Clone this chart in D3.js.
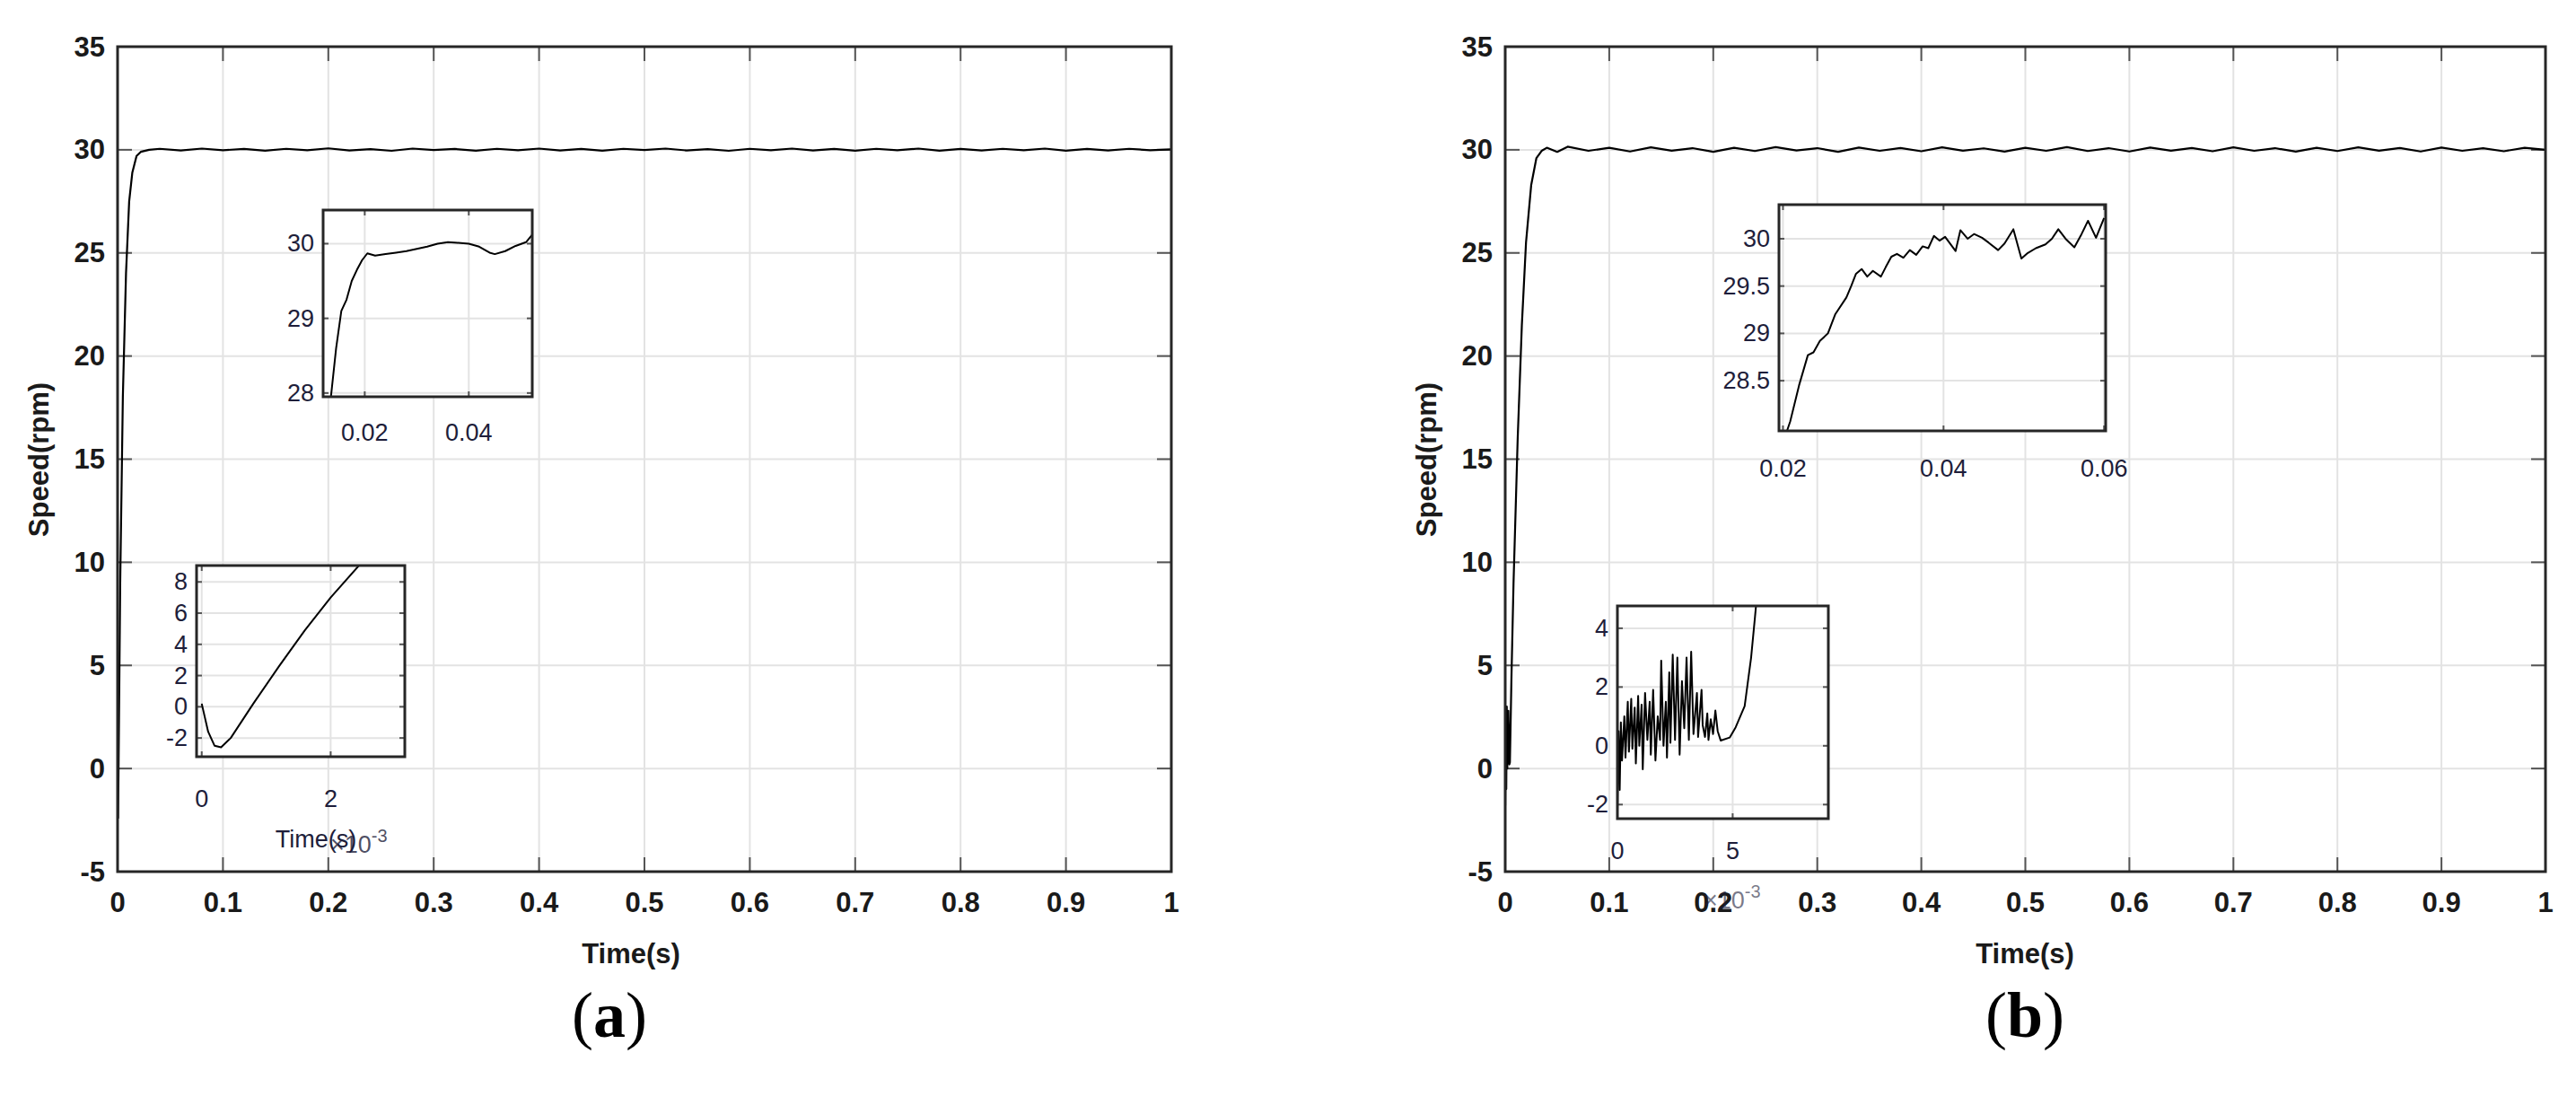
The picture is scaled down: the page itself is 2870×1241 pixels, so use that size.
<!DOCTYPE html>
<html><head><meta charset="utf-8">
<script src="https://cdn.jsdelivr.net/npm/d3@7"></script>
<style>
body{margin:0;background:#fff}
.tk{font-family:"Liberation Sans Narrow","Liberation Sans",sans-serif;font-weight:bold;font-size:31px;fill:#1a1a1a}
.it{font-family:"Liberation Sans Narrow","Liberation Sans",sans-serif;font-size:27px;fill:#1e1e3a}
.cap{font-family:"Liberation Serif",serif;font-size:72px;fill:#000}
</style></head><body>
<div id="chart"></div>
<script>
const width = 2870, height = 1241;

// main panel ticks
const xTicksMain = [0,0.1,0.2,0.3,0.4,0.5,0.6,0.7,0.8,0.9,1];
const yTicksMain = [-5,0,5,10,15,20,25,30,35];

// panel (a) main trace (time s, speed rpm)
const speedA = [[0,0],[0.0005,-2.4],[0.0025,9],[0.005,18],[0.008,24],[0.011,27.5],[0.014,28.9],[0.018,29.7],[0.022,29.9],[0.03,30.0],
 [0.04,30.05],[0.06,29.97],[0.08,30.06],[0.1,29.98],[0.12,30.04],[0.14,29.96],[0.16,30.05],[0.18,29.98],[0.2,30.07],[0.22,29.97],
 [0.24,30.03],[0.26,29.95],[0.28,30.06],[0.3,29.99],[0.32,30.04],[0.34,29.96],[0.36,30.05],[0.38,29.98],[0.4,30.06],[0.42,29.97],
 [0.44,30.04],[0.46,29.96],[0.48,30.05],[0.5,29.99],[0.52,30.06],[0.54,29.97],[0.56,30.03],[0.58,29.95],[0.6,30.05],[0.62,29.98],
 [0.64,30.06],[0.66,29.97],[0.68,30.04],[0.7,29.96],[0.72,30.05],[0.74,29.98],[0.76,30.06],[0.78,29.96],[0.8,30.04],[0.82,29.97],
 [0.84,30.05],[0.86,29.98],[0.88,30.06],[0.9,29.96],[0.92,30.04],[0.94,29.97],[0.96,30.05],[0.98,29.98],[1,30.02]];

// panel (a) upper inset
const insetA1X = [0.02,0.04];
const insetA1Y = [28,29,30];
const zoomA1 = [[0.0135,27.95],[0.0145,28.6],[0.0155,29.1],[0.0165,29.25],[0.0175,29.5],[0.0185,29.65],[0.0195,29.78],[0.0205,29.87],
 [0.022,29.84],[0.024,29.86],[0.026,29.88],[0.028,29.9],[0.03,29.93],[0.032,29.96],[0.034,30.0],[0.036,30.02],[0.038,30.01],
 [0.04,30.0],[0.042,29.96],[0.044,29.88],[0.045,29.86],[0.047,29.9],[0.049,29.97],[0.051,30.02],[0.0522,30.12]];

// panel (a) lower inset (time in ms)
const insetA2X = [0,2];
const insetA2Y = [-2,0,2,4,6,8];
const zoomA2 = [[0,0.2],[0.1,-1.6],[0.2,-2.5],[0.3,-2.6],[0.45,-2.0],[0.8,0.2],[1.2,2.6],[1.6,4.9],[2.0,7.0],[2.45,9.1]];

// panel (b) main trace
const speedB = [[0,-1.8],[0.0005,2.5],[0.001,-1],[0.0015,3],[0.002,0],[0.003,2.8],[0.004,0.2],[0.0045,0.3],[0.006,4.4],[0.008,9],
 [0.012,16],[0.016,21.5],[0.02,25.5],[0.025,28.3],[0.03,29.6],[0.035,29.95],[0.04,30.1],[0.05,29.9],[0.06,30.15],[0.08,29.95],
 [0.1,30.1],[0.12,29.92],[0.14,30.12],[0.16,29.96],[0.18,30.08],[0.2,29.9],[0.22,30.1],[0.24,29.94],[0.26,30.13],[0.28,29.97],
 [0.3,30.08],[0.32,29.9],[0.34,30.11],[0.36,29.95],[0.38,30.09],[0.4,29.93],[0.42,30.12],[0.44,29.96],[0.46,30.07],[0.48,29.91],
 [0.5,30.1],[0.52,29.95],[0.54,30.13],[0.56,29.94],[0.58,30.08],[0.6,29.92],[0.62,30.11],[0.64,29.96],[0.66,30.09],[0.68,29.93],
 [0.7,30.12],[0.72,29.95],[0.74,30.08],[0.76,29.91],[0.78,30.1],[0.8,29.94],[0.82,30.12],[0.84,29.96],[0.86,30.09],[0.88,29.92],
 [0.9,30.11],[0.92,29.95],[0.94,30.08],[0.96,29.93],[0.98,30.1],[1,30.0]];

// panel (b) upper inset
const insetB1X = [0.02,0.04,0.06];
const insetB1Y = [28.5,29,29.5,30];
const zoomB1 = [[0.0205,27.97],[0.0209,28.07],[0.022,28.45],[0.0231,28.77],[0.0238,28.8],[0.0246,28.92],[0.0256,29.0],[0.0265,29.2],
 [0.0279,29.38],[0.0285,29.5],[0.0291,29.63],[0.0298,29.68],[0.0305,29.6],[0.0312,29.66],[0.0322,29.6],[0.0328,29.7],[0.0335,29.81],
 [0.0342,29.84],[0.035,29.8],[0.0358,29.88],[0.0366,29.83],[0.0374,29.92],[0.0381,29.9],[0.0388,30.03],[0.0395,29.98],[0.0402,30.02],
 [0.0415,29.87],[0.0421,30.09],[0.043,30.0],[0.0438,30.05],[0.0448,30.01],[0.0456,29.96],[0.0468,29.88],[0.0476,29.95],[0.0487,30.1],
 [0.0497,29.79],[0.0505,29.85],[0.0515,29.9],[0.0527,29.94],[0.0535,30.0],[0.0543,30.1],[0.0552,30.0],[0.0563,29.91],[0.0572,30.05],
 [0.058,30.19],[0.059,30.01],[0.06,30.22]];

// panel (b) lower inset (time in ms)
const insetB2X = [0,5];
const insetB2Y = [-2,0,2,4];
const zoomB2 = [[0,-2.2],[0.05,0.5],[0.1,-1.5],[0.15,0.8],[0.2,-0.5],[0.3,1.0],[0.35,-0.4],[0.45,1.5],[0.5,-0.2],[0.6,1.6],
 [0.65,-0.1],[0.75,1.3],[0.8,-0.6],[0.9,1.7],[0.95,0.0],[1.05,1.4],[1.1,-0.8],[1.2,1.8],[1.3,0.2],[1.4,1.5],[1.45,-0.3],[1.55,1.9],
 [1.65,-0.5],[1.75,1.0],[1.85,0.2],[1.9,2.9],[2.0,0.0],[2.1,1.5],[2.15,-0.4],[2.25,2.5],[2.3,0.1],[2.4,3.1],[2.5,0.2],[2.6,3.0],
 [2.7,-0.3],[2.8,2.2],[2.9,0.6],[3.0,3.0],[3.1,0.2],[3.2,3.2],[3.3,0.4],[3.45,1.8],[3.5,0.3],[3.65,1.9],[3.7,0.7],[3.8,0.3],
 [3.9,1.1],[3.95,0.2],[4.05,0.9],[4.15,0.4],[4.25,1.2],[4.35,0.5],[4.48,0.18],[4.87,0.28],[5.13,0.63],[5.52,1.35],[5.8,3.0],[5.97,4.4],[6.1,5.5]];

const svg = d3.select("#chart").append("svg")
    .attr("width", width).attr("height", height)
    .attr("viewBox", `0 0 ${width} ${height}`);

const line = (x, y) => d3.line().x(d => x(d[0])).y(d => y(d[1]));
let clipId = 0;

// one framed axes with grid; cls sets tick label style
function drawAxes(box, xDom, yDom, xTicks, yTicks, data, cls, opt) {
    const x = d3.scaleLinear().domain(xDom).range([box.x0, box.x1]);
    const y = d3.scaleLinear().domain(yDom).range([box.y1, box.y0]);
    const g = svg.append("g");
    g.append("rect").attr("x", box.x0).attr("y", box.y0)
        .attr("width", box.x1 - box.x0).attr("height", box.y1 - box.y0).attr("fill", "#fff");
    // grid
    g.selectAll(".gx").data(xTicks).join("line")
        .attr("x1", d => x(d)).attr("x2", d => x(d)).attr("y1", box.y0).attr("y2", box.y1)
        .attr("stroke", "#e3e3e3").attr("stroke-width", opt.grid);
    g.selectAll(".gy").data(yTicks).join("line")
        .attr("y1", d => y(d)).attr("y2", d => y(d)).attr("x1", box.x0).attr("x2", box.x1)
        .attr("stroke", "#e3e3e3").attr("stroke-width", opt.grid);
    // ticks inside, all four sides
    const tl = opt.tick;
    const tickG = g.append("g").attr("stroke", "#555").attr("stroke-width", opt.grid);
    xTicks.forEach(t => {
        tickG.append("line").attr("x1", x(t)).attr("x2", x(t)).attr("y1", box.y1).attr("y2", box.y1 - tl);
        tickG.append("line").attr("x1", x(t)).attr("x2", x(t)).attr("y1", box.y0).attr("y2", box.y0 + tl);
    });
    yTicks.forEach(t => {
        tickG.append("line").attr("y1", y(t)).attr("y2", y(t)).attr("x1", box.x0).attr("x2", box.x0 + tl);
        tickG.append("line").attr("y1", y(t)).attr("y2", y(t)).attr("x1", box.x1).attr("x2", box.x1 - tl);
    });
    // data
    const id = "clip" + (clipId++);
    g.append("clipPath").attr("id", id).append("rect")
        .attr("x", box.x0).attr("y", box.y0).attr("width", box.x1 - box.x0).attr("height", box.y1 - box.y0);
    g.append("path").datum(data).attr("clip-path", `url(#${id})`)
        .attr("fill", "none").attr("stroke", "#000").attr("stroke-width", opt.lw)
        .attr("stroke-linejoin", "round").attr("d", line(x, y));
    g.append("rect").attr("x", box.x0).attr("y", box.y0)
        .attr("width", box.x1 - box.x0).attr("height", box.y1 - box.y0)
        .attr("fill", "none").attr("stroke", "#262626").attr("stroke-width", opt.frame);
    // labels
    g.selectAll(".xl").data(xTicks).join("text").attr("class", cls)
        .attr("x", d => x(d)).attr("y", opt.xLabelY).attr("text-anchor", "middle")
        .attr("dominant-baseline", "central").text(d => d);
    g.selectAll(".yl").data(yTicks).join("text").attr("class", cls)
        .attr("x", box.x0 - opt.yGap).attr("y", d => y(d)).attr("text-anchor", "end")
        .attr("dominant-baseline", "central").text(d => d);
    return {x, y, g};
}

const mainOpt = {grid: 2, tick: 16, lw: 2.2, frame: 3, yGap: 14, xLabelY: 1005};
const inOpt = {grid: 2, tick: 6, lw: 2, frame: 3, yGap: 10};

// panel (a)
drawAxes({x0: 131, x1: 1305, y0: 52, y1: 971}, [0, 1], [-5, 35], xTicksMain, yTicksMain, speedA, "tk", mainOpt);
drawAxes({x0: 360, x1: 593, y0: 234, y1: 442}, [0.012, 0.0522], [27.95, 30.45], insetA1X, insetA1Y, zoomA1, "it",
    Object.assign({}, inOpt, {xLabelY: 482}));
drawAxes({x0: 219, x1: 451, y0: 630, y1: 843}, [-0.08, 3.15], [-3.2, 9.05], insetA2X, insetA2Y, zoomA2, "it",
    Object.assign({}, inOpt, {xLabelY: 890}));

// panel (b)
drawAxes({x0: 1677, x1: 2836, y0: 52, y1: 971}, [0, 1], [-5, 35], xTicksMain, yTicksMain, speedB, "tk", mainOpt);
drawAxes({x0: 1982, x1: 2346, y0: 228, y1: 480}, [0.0195, 0.0602], [27.97, 30.36], insetB1X, insetB1Y, zoomB1, "it",
    Object.assign({}, inOpt, {xLabelY: 522}));
drawAxes({x0: 1802, x1: 2037, y0: 675, y1: 912}, [0, 9.15], [-2.48, 4.76], insetB2X, insetB2Y, zoomB2, "it",
    Object.assign({}, inOpt, {xLabelY: 948}));

// axis titles
[[703, 131], [2256, 1677]].forEach(([cx, x0]) => {
    svg.append("text").attr("class", "tk").attr("x", cx).attr("y", 1062)
        .attr("text-anchor", "middle").attr("dominant-baseline", "central").text("Time(s)");
    svg.append("text").attr("class", "tk")
        .attr("transform", `translate(${x0 - 88},${512}) rotate(-90)`)
        .attr("text-anchor", "middle").attr("dominant-baseline", "central").text("Speed(rpm)");
});

// inset (a) lower: x title and exponent
svg.append("text").attr("class", "it").attr("x", 352).attr("y", 935)
    .attr("text-anchor", "middle").attr("dominant-baseline", "central").text("Time(s)");
svg.append("text").attr("class", "it").attr("x", 368).attr("y", 950).attr("fill-opacity", 0.8)
    .html('×10<tspan dy="-12" font-size="20">-3</tspan>');
// inset (b) lower exponent
svg.append("text").attr("class", "it").attr("x", 1898).attr("y", 1012).attr("fill-opacity", 0.6)
    .html('×10<tspan dy="-12" font-size="20">-3</tspan>');

// captions
svg.append("text").attr("class", "cap").attr("x", 679).attr("y", 1131).attr("text-anchor", "middle")
    .attr("dominant-baseline", "central").html('(<tspan font-weight="bold">a</tspan>)');
svg.append("text").attr("class", "cap").attr("x", 2256).attr("y", 1131).attr("text-anchor", "middle")
    .attr("dominant-baseline", "central").html('(<tspan font-weight="bold">b</tspan>)');
</script>
</body></html>
